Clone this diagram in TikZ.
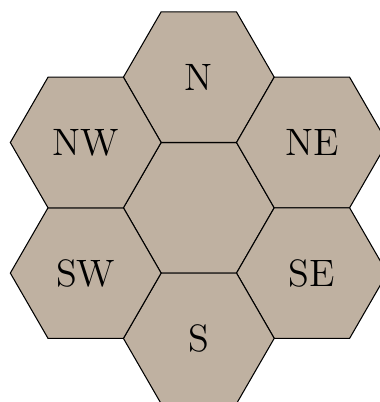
\documentclass[tikz,border=0pt]{standalone}
\usepackage{tikz}
\usetikzlibrary{shapes.geometric}

\definecolor{hexfill}{RGB}{191,177,161}

\begin{document}
\begin{tikzpicture}[
  hexcell/.style={draw,fill=hexfill,regular polygon,regular polygon sides=6,
                  minimum size=2cm,inner sep=0pt,outer sep=0pt,font=\Large}
]
\useasboundingbox (-2.637,-2.576) rectangle (2.390,2.756);
\node[hexcell] (c)  at (0,0)         {};
\node[hexcell] (n)  at (90:1.732)    {N};
\node[hexcell] (ne) at (30:1.732)    {NE};
\node[hexcell] (se) at (-30:1.732)   {SE};
\node[hexcell] (s)  at (-90:1.732)   {S};
\node[hexcell] (sw) at (-150:1.732)  {SW};
\node[hexcell] (nw) at (150:1.732)   {NW};
\end{tikzpicture}
\end{document}
